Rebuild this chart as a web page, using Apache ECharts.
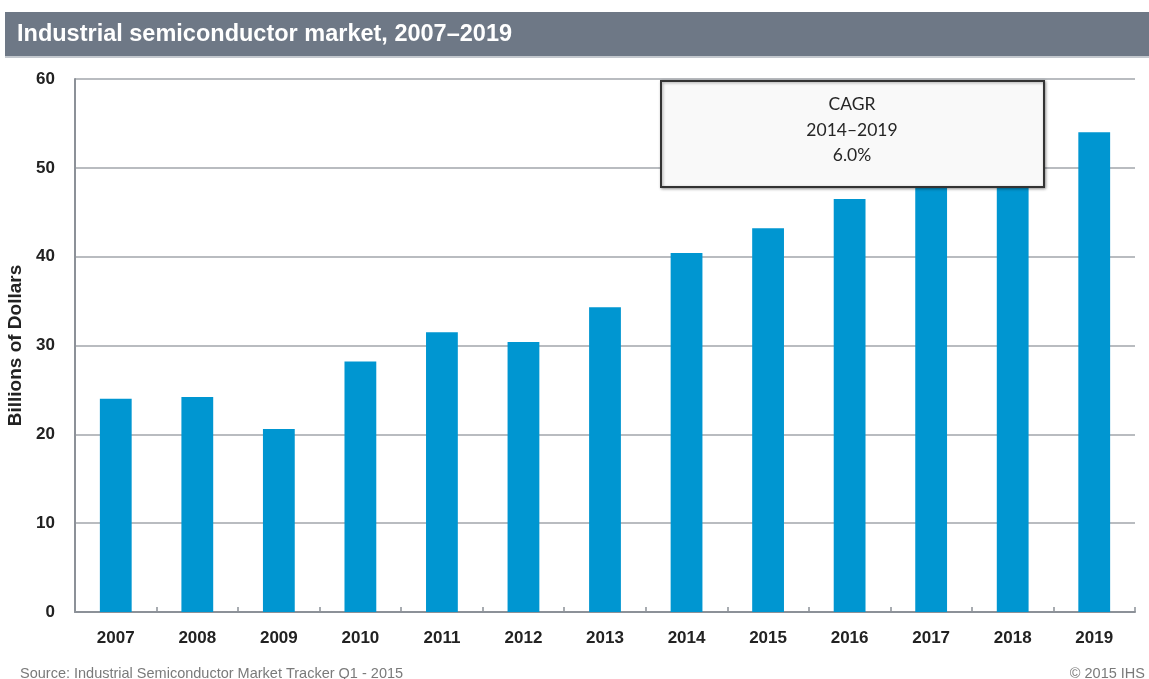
<!DOCTYPE html>
<html>
<head>
<meta charset="utf-8">
<title>Industrial semiconductor market</title>
<script src="https://cdn.jsdelivr.net/npm/echarts@6/dist/echarts.min.js"></script>
<style>
	html,body{margin:0;padding:0;background:#fff;}
	#chart{width:1149px;height:679px;}
</style>
</head>
<body>
<div id="chart"></div>
<script>
var years = ['2007','2008','2009','2010','2011','2012','2013','2014','2015','2016','2017','2018','2019'];
// 2017 and 2018 tops sit behind the CAGR box, estimated
var revenue = [24.0, 24.2, 20.6, 28.2, 31.5, 30.4, 34.3, 40.4, 43.2, 46.5, 48.9, 51.4, 54.0];
var titleText = 'Industrial semiconductor market, 2007\u20132019';
var cagrLines = ['CAGR', '2014\u20132019', '6.0%'];
var sourceText = 'Source: Industrial Semiconductor Market Tracker Q1 - 2015';
var copyText = '\u00a9 2015 IHS';

var barColor = '#0096d1';
var gridColor = '#b9bcc0';
var axisColor = '#8c9198';
var labelFont = '"Liberation Sans", Arial, sans-serif';

var myChart = echarts.init(document.getElementById('chart'));
var option = {
	animation: false,
	backgroundColor: '#fff',
	grid: {
		left: 75,
		right: 14,
		top: 79,
		bottom: 67,
		containLabel: false,
		outerBoundsMode: 'none'
	},
	xAxis: {
		type: 'category',
		data: years,
		axisLine: {lineStyle: {color: axisColor, width: 2}},
		axisTick: {show: true, inside: true, length: 5, lineStyle: {color: axisColor, width: 1.5}},
		axisLabel: {
			color: '#222',
			fontFamily: labelFont,
			fontWeight: 'bold',
			fontSize: 17,
			margin: 18
		}
	},
	yAxis: {
		type: 'value',
		min: 0,
		max: 60,
		interval: 10,
		name: 'Billions of Dollars',
		nameLocation: 'middle',
		nameGap: 46,
		nameRotate: 90,
		nameTextStyle: {
			color: '#222',
			fontFamily: labelFont,
			fontWeight: 'bold',
			fontSize: 19
		},
		axisLine: {show: true, lineStyle: {color: axisColor, width: 2}},
		axisTick: {show: false},
		splitLine: {lineStyle: {color: gridColor, width: 2}},
		axisLabel: {
			color: '#222',
			fontFamily: labelFont,
			fontWeight: 'bold',
			fontSize: 17,
			margin: 20
		}
	},
	series: [{
		type: 'bar',
		data: revenue,
		barWidth: '39%',
		itemStyle: {color: barColor},
		z: 2
	}],
	graphic: [
		{
			type: 'rect',
			left: 5,
			top: 12,
			shape: {width: 1144, height: 44},
			style: {fill: '#6e7886'},
			z: 10
		},
		{
			type: 'rect',
			left: 5,
			top: 56,
			shape: {width: 1144, height: 2},
			style: {fill: '#c3c8ce'},
			z: 10
		},
		{
			type: 'text',
			left: 17,
			top: 23,
			style: {
				text: titleText,
				fill: '#fff',
				font: 'bold 23.5px "Liberation Sans", Arial, sans-serif'
			},
			z: 11
		},
		{
			type: 'rect',
			left: 660,
			top: 80,
			shape: {width: 383, height: 106},
			style: {
				fill: '#f9f9f9',
				stroke: '#333',
				lineWidth: 2,
				shadowColor: 'rgba(0,0,0,0.35)',
				shadowBlur: 3,
				shadowOffsetX: 1,
				shadowOffsetY: 1
			},
			z: 20
		},
		{
			type: 'text',
			x: 852,
			y: 92,
			style: {
				text: cagrLines.join('\n'),
				fill: '#262626',
				font: '17.5px Lato, "Open Sans", sans-serif',
				align: 'center',
				lineHeight: 25.5
			},
			z: 21
		},
		{
			type: 'text',
			left: 20,
			top: 666,
			style: {
				text: sourceText,
				fill: '#7a7a7a',
				font: '14.5px "Liberation Sans", Arial, sans-serif'
			},
			z: 10
		},
		{
			type: 'text',
			right: 4,
			top: 666,
			style: {
				text: copyText,
				fill: '#7a7a7a',
				font: '14.5px "Liberation Sans", Arial, sans-serif'
			},
			z: 10
		}
	]
};
myChart.setOption(option);
</script>
</body>
</html>
